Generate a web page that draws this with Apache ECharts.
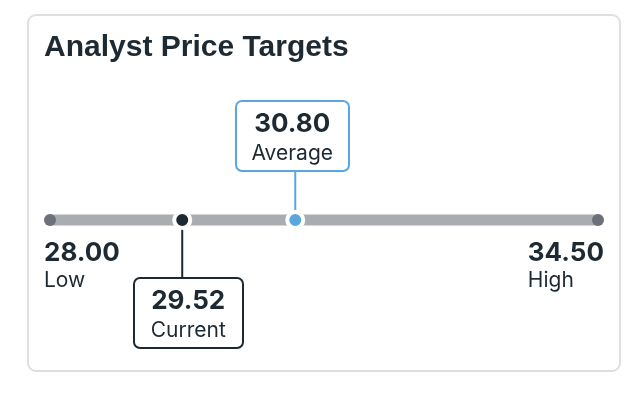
<!DOCTYPE html>
<html>
<head>
<meta charset="utf-8">
<script src="https://cdn.jsdelivr.net/npm/echarts@6/dist/echarts.min.js"></script>
<style>
html,body{margin:0;padding:0;background:#fff;}
#chart{width:644px;height:396px;}
</style>
</head>
<body>
<div id="chart"></div>
<script>
// ---- data ----
const titleText = 'Analyst Price Targets';
const rangeLabels = ['Low', 'High'];
const rangeValues = [28.00, 34.50];
const markerLabels = ['Current', 'Average'];
const markerValues = [29.52, 30.80];

// ---- styles ----
const TEXT = '#1e2a33';
const FONT = 'Inter, Roboto, sans-serif';
const markerStyles = [
  { color: '#1e2830', side: 'below', dx: 6, w: 109 },
  { color: '#5aa7de', side: 'above', dx: -3, w: 113 }
];

const chart = echarts.init(document.getElementById('chart'));

function rangeItem(params, api) {
  const v = api.value(0);
  const p = api.coord([v, 0]);
  const i = params.dataIndex;
  const isLeft = i === 0;
  return {
    type: 'group',
    children: [
      { type: 'circle', shape: { cx: p[0], cy: p[1], r: 6 }, style: { fill: '#6b7079' } },
      {
        type: 'text',
        style: {
          x: isLeft ? p[0] - 6 : p[0] + 6,
          y: p[1] + 19,
          align: isLeft ? 'left' : 'right',
          verticalAlign: 'top',
          text: '{v|' + v.toFixed(2) + '}\n{l|' + rangeLabels[i] + '}',
          fill: TEXT,
          rich: {
            v: { fontFamily: FONT, fontSize: 26, fontWeight: 'bold', fill: TEXT, lineHeight: 28, align: 'left' },
            l: { fontFamily: FONT, fontSize: 21, fill: TEXT, lineHeight: 28, align: 'left' }
          }
        }
      }
    ]
  };
}

function markerItem(params, api) {
  const v = api.value(0);
  const p = api.coord([v, 0]);
  const i = params.dataIndex;
  const s = markerStyles[i];
  const h = 70;
  const top = s.side === 'above' ? p[1] - 49 - h : p[1] + 58;
  const edge = s.side === 'above' ? top + h : top;
  const cx = p[0] + s.dx;
  return {
    type: 'group',
    children: [
      { type: 'line', shape: { x1: p[0], y1: edge, x2: p[0], y2: p[1] }, style: { stroke: s.color, lineWidth: 2 } },
      { type: 'rect', shape: { x: Math.round(cx - s.w / 2), y: top, width: s.w, height: h, r: 6 },
        style: { fill: '#fff', stroke: s.color, lineWidth: 2 } },
      { type: 'text', style: { x: cx, y: top + 23, align: 'center', verticalAlign: 'middle',
          text: v.toFixed(2), font: 'bold 26px ' + FONT, fill: TEXT } },
      { type: 'text', style: { x: cx, y: top + 53, align: 'center', verticalAlign: 'middle',
          text: markerLabels[i], font: '21px ' + FONT, fill: TEXT } },
      { type: 'circle', shape: { cx: p[0], cy: p[1], r: 8 }, style: { fill: s.color, stroke: '#fff', lineWidth: 4 } }
    ]
  };
}

chart.setOption({
  animation: false,
  title: {
    text: titleText,
    left: 44,
    top: 33,
    padding: 0,
    textStyle: { fontFamily: '"Liberation Sans", Arial, sans-serif', fontWeight: 'bold', fontSize: 30, color: TEXT }
  },
  graphic: [{
    type: 'rect', z: -10, silent: true,
    shape: { x: 28, y: 15, width: 592, height: 356, r: 8 },
    style: { fill: 'none', stroke: '#dedfe2', lineWidth: 2 }
  }],
  grid: [
    { left: 50, right: 46, top: 210, height: 20 },
    { left: 48, right: 22, top: 210, height: 20 }
  ],
  xAxis: [
    { type: 'value', gridIndex: 0, min: rangeValues[0], max: rangeValues[1], show: false },
    { type: 'value', gridIndex: 1, min: rangeValues[0], max: rangeValues[1], show: false }
  ],
  yAxis: [
    { type: 'value', gridIndex: 0, min: -1, max: 1, show: false },
    { type: 'value', gridIndex: 1, min: -1, max: 1, show: false }
  ],
  series: [
    {
      type: 'line', xAxisIndex: 0, yAxisIndex: 0, silent: true, z: 1,
      data: rangeValues.map(v => [v, 0]),
      symbol: 'none',
      lineStyle: { width: 11, color: '#a9adb2' }
    },
    {
      type: 'custom', xAxisIndex: 0, yAxisIndex: 0, silent: true, z: 5,
      data: rangeValues.map(v => [v, 0]),
      renderItem: rangeItem
    },
    {
      type: 'custom', xAxisIndex: 1, yAxisIndex: 1, silent: true, z: 6,
      data: markerValues.map(v => [v, 0]),
      renderItem: markerItem
    }
  ]
});
</script>
</body>
</html>
